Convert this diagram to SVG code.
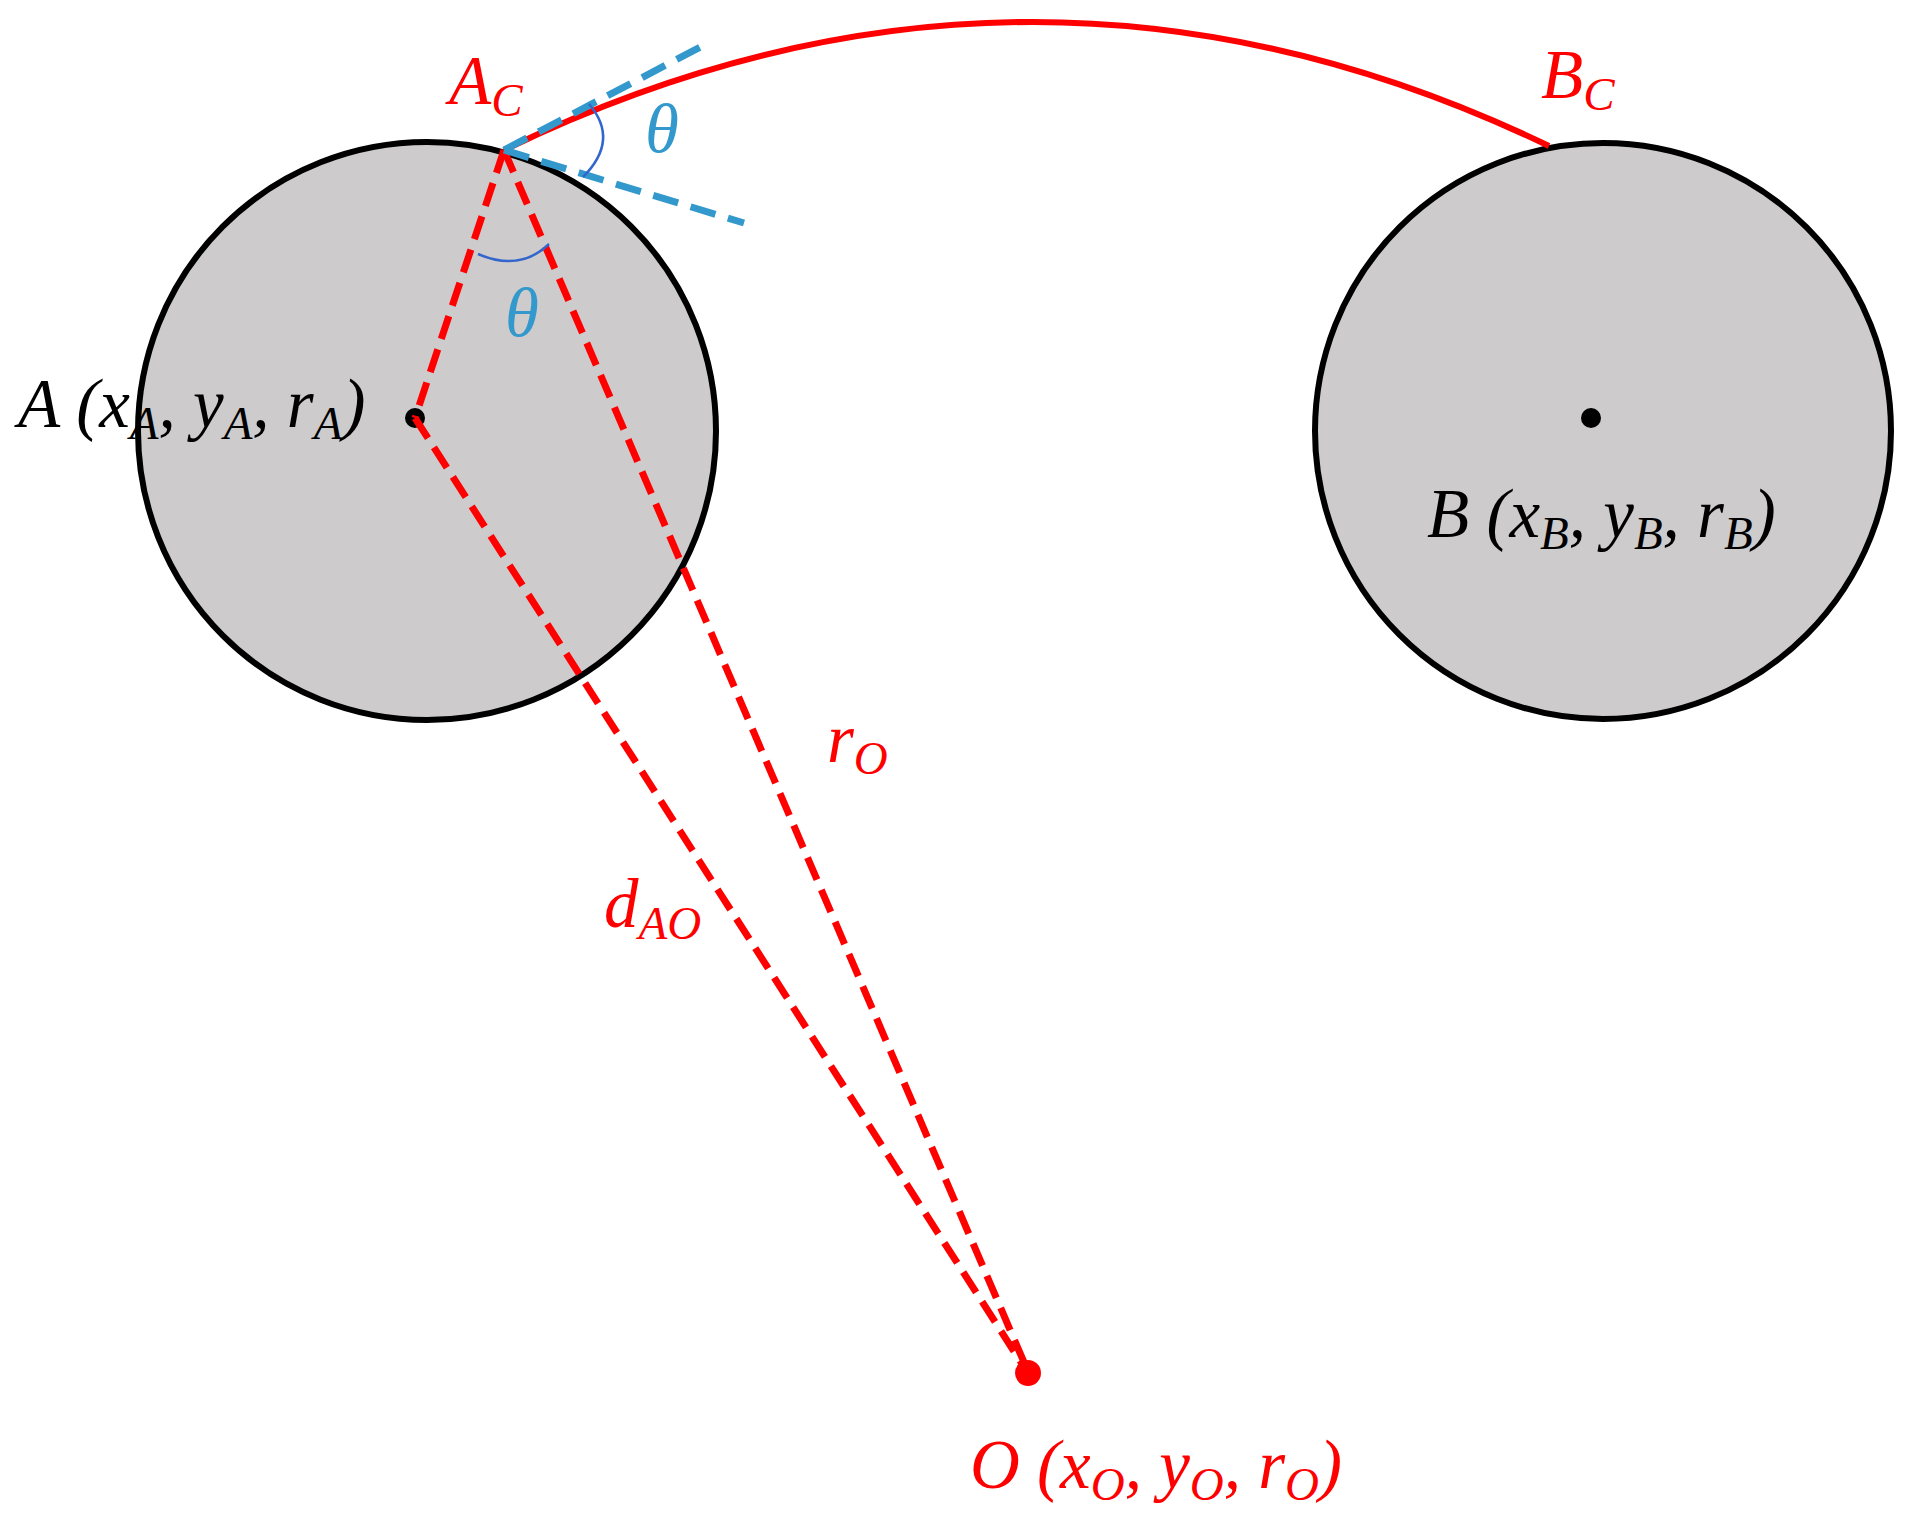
<svg xmlns="http://www.w3.org/2000/svg" width="1913" height="1522" viewBox="0 0 1913 1522">
<style>
text{font-family:"Liberation Serif","Times New Roman",serif;font-style:italic;font-size:69px}
.r{fill:#f00}.k{fill:#000}.b{fill:#3399cc}
.sub{font-size:47px}
.rd{stroke:#f00;stroke-width:7;stroke-dasharray:24 11;fill:none}
.bd{stroke:#3399cc;stroke-width:7;stroke-dasharray:26 13;fill:none}
</style>
<rect width="1913" height="1522" fill="#fff"/>
<g id="circleA"><circle cx="427" cy="431" r="289" fill="#cdcbcc" stroke="#000" stroke-width="6"/><circle cx="415" cy="418" r="10" fill="#000"/></g>
<g id="circleB"><circle cx="1603" cy="431" r="288" fill="#cdcbcc" stroke="#000" stroke-width="6"/><circle cx="1591" cy="418" r="10" fill="#000"/></g>
<g id="connectors">
<path d="M504,150 Q1030,-104 1549,146" fill="none" stroke="#f00" stroke-width="6"/>
<line class="rd" x1="504" y1="150" x2="415" y2="418"/>
<line class="rd" x1="504" y1="150" x2="1026" y2="1367"/>
<line class="rd" x1="415" y1="418" x2="1024" y2="1367"/>
<line class="bd" x1="504" y1="150" x2="708" y2="43"/>
<line class="bd" x1="504" y1="150" x2="744" y2="223"/>
<path d="M589,104 Q620,140 583,177" fill="none" stroke="#3366cc" stroke-width="2.5"/>
<path d="M478,254 Q520,272 549,244" fill="none" stroke="#3366cc" stroke-width="2.5"/>
</g>
<g id="pointO"><circle cx="1028" cy="1373" r="13" fill="#f00"/></g>
<g id="labels">
<text x="18" y="427" class="k">A (x<tspan class="sub" dy="12">A</tspan><tspan dy="-12">, y</tspan><tspan class="sub" dy="12">A</tspan><tspan dy="-12">, r</tspan><tspan class="sub" dy="12">A</tspan><tspan dy="-12">)</tspan></text>
<text x="1427" y="537" class="k">B (x<tspan class="sub" dy="12">B</tspan><tspan dy="-12">, y</tspan><tspan class="sub" dy="12">B</tspan><tspan dy="-12">, r</tspan><tspan class="sub" dy="12">B</tspan><tspan dy="-12">)</tspan></text>
<text x="970" y="1488" class="r">O (x<tspan class="sub" dy="12">O</tspan><tspan dy="-12">, y</tspan><tspan class="sub" dy="12">O</tspan><tspan dy="-12">, r</tspan><tspan class="sub" dy="12">O</tspan><tspan dy="-12">)</tspan></text>
<text x="449" y="104" class="r">A<tspan class="sub" dy="12">C</tspan></text>
<text x="1541" y="98" class="r">B<tspan class="sub" dy="12">C</tspan></text>
<text x="827" y="762" class="r">r<tspan class="sub" dy="12">O</tspan></text>
<text x="604" y="927" class="r">d<tspan class="sub" dy="12">AO</tspan></text>
<text x="645" y="152" class="b">θ</text>
<text x="505" y="336" class="b">θ</text>
</g>
</svg>
